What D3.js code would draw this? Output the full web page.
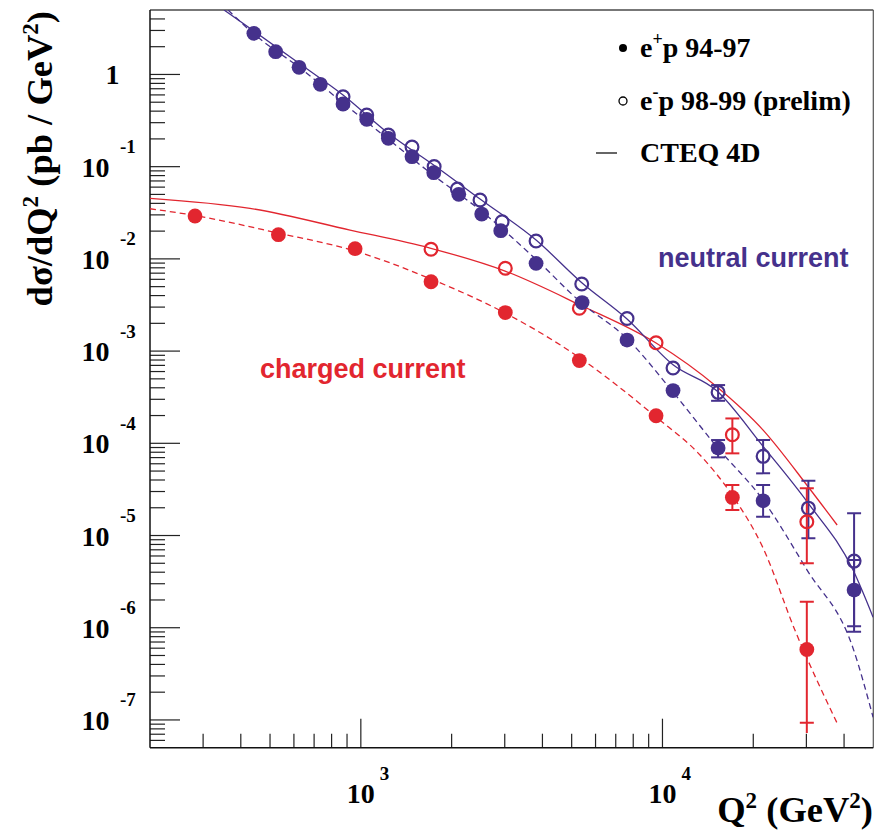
<!DOCTYPE html>
<html><head><meta charset="utf-8">
<script src="https://cdn.jsdelivr.net/npm/d3@7"></script>
<style>body{margin:0;background:#fff}</style>
</head><body><svg id="c" width="874" height="830"></svg>
<script>
// ---------- data ----------
const ncPosQ2 = [442,522,624,734,873,1046,1234,1478,1745,2112,2516,2910,3810,5414,7630,10840,15290,21560,43180];
const ncPosXS = [2.79,1.764,1.195,0.781,0.478,0.326,0.203,0.1282,0.0860,0.0501,0.03064,0.0202,0.00894,0.00336,0.001318,3.73e-4,8.88e-5,2.38e-5,2.56e-6];
const ncNegQ2 = [873,1046,1234,1478,1750,2090,2484,2940,3810,5400,7630,10840,15290,21560,30460,43180];
const ncNegXS = [0.5735,0.3633,0.2204,0.1634,0.1004,0.0572,0.04348,0.02528,0.01561,0.005335,0.002254,6.55e-4,3.57e-4,7.22e-5,1.98e-5,5.28e-6];
const ccPosQ2 = [282,533,957,1709,3013,5302,9522,17050,30100];
const ccPosXS = [0.02916,0.01828,0.01289,0.00565,0.002619,7.9e-4,1.99e-4,2.59e-5,5.82e-7];
const ccNegQ2 = [1709,3013,5302,9522,17050,30100];
const ccNegXS = [0.0127,0.0079,0.00291,0.00123,1.24e-4,1.41e-5];

// error bars: [Q2, low, high, (optional outer low)]
const ncPosErr = [[15290,7.04e-5,1.085e-4],[21560,1.6e-5,3.53e-5],[43180,9.04e-7,5.42e-6]];
const ncNegErr = [[15290,2.89e-4,4.28e-4],[21560,4.72e-5,1.085e-4],[30460,9.32e-6,3.92e-5],[43180,1.04e-6,1.74e-5]];
const ccPosErr = [[17050,1.89e-5,3.53e-5],[30100,9.31e-8,1.91e-6,7.2e-8]];
const ccNegErr = [[17050,7.78e-5,1.86e-4],[30100,4.99e-6,3.25e-5]];

// CTEQ 4D curves
const cteqNcNegQ2 = [352,442,629,873,1231,1762,2484,3810,5414,7630,10840,15170,21390,30400,42840,49920];
const cteqNcNegXS = [5.0,2.96,1.298,0.5985,0.2317,0.1016,0.04458,0.016,0.00547,0.002226,7.1e-4,3.69e-4,9.57e-5,2.25e-5,4.22e-6,1.3e-6];
const cteqNcPosQ2 = [363,442,629,873,1231,1735,2484,3830,5333,7614,10820,15140,21560,30160,42840,49920];
const cteqNcPosXS = [5.0,2.746,1.174,0.49,0.1996,0.0812,0.03387,0.009713,0.00343,0.001375,3.62e-4,9.17e-5,2.42e-5,4.22e-6,6.0e-7,1.07e-7];
const cteqCcNegQ2 = [200,429,921,1696,3008,5333,9522,15140,21560,30400,37940];
const cteqCcNegXS = [0.04537,0.03533,0.02056,0.01311,0.00738,0.00316,0.001223,4.1e-4,1.39e-4,3.38e-5,1.3e-5];
const cteqCcPosQ2 = [200,282,531,957,1709,3008,5333,9522,13320,17010,21560,27480,38080];
const cteqCcPosXS = [0.03498,0.02952,0.01907,0.01216,0.006045,0.002587,8.4e-4,1.926e-4,7.46e-5,2.745e-5,7.31e-6,9.43e-7,9.0e-8];

const xLabelTicks = [1000, 10000];
const yLabelTicks = [1,1e-1,1e-2,1e-3,1e-4,1e-5,1e-6,1e-7];
const xDomain = [200, 50000];
const yDomain = [5e-8, 5];

// ---------- layout ----------
const BLUE = "#45318c", RED = "#e2262f";
const L=150, R=873.3, T=10, B=747.7;
const svg = d3.select("#c");
const x = d3.scaleLog().domain(xDomain).range([L,R]);
const y = d3.scaleLog().domain(yDomain).range([B,T]);
const serif = "'Liberation Serif','Times New Roman',serif";
const sans = "'Liberation Sans',Arial,sans-serif";

svg.append("defs").append("clipPath").attr("id","pa")
  .append("rect").attr("x",L).attr("y",T).attr("width",R-L).attr("height",B-T);

// frame
svg.append("line").attr("x1",L).attr("x2",R).attr("y1",T).attr("y2",T).attr("stroke","#777").attr("stroke-width",2);
svg.append("line").attr("x1",R).attr("x2",R).attr("y1",T).attr("y2",B).attr("stroke","#555").attr("stroke-width",1.2);

// x ticks
const xt = x.ticks();
const isPow = v => Math.abs(Math.log10(v) - Math.round(Math.log10(v))) < 1e-6;
svg.append("g").selectAll("line").data(xt.filter(v=>v>xDomain[0] && v<xDomain[1])).join("line")
  .attr("x1",d=>x(d)).attr("x2",d=>x(d)).attr("y1",B).attr("y2",d=>B-(isPow(d)?29:14))
  .attr("stroke","#222").attr("stroke-width",1.2);
// y ticks
const yt = y.ticks();
svg.append("g").selectAll("line").data(yt.filter(v=>v>yDomain[0] && v<yDomain[1])).join("line")
  .attr("y1",d=>y(d)).attr("y2",d=>y(d)).attr("x1",L).attr("x2",d=>L+(isPow(d)?30:15))
  .attr("stroke","#222").attr("stroke-width",1.2);
// axis lines
svg.append("line").attr("x1",L).attr("x2",R).attr("y1",B).attr("y2",B).attr("stroke","#111").attr("stroke-width",1.5);
svg.append("line").attr("x1",L).attr("x2",L).attr("y1",T).attr("y2",B).attr("stroke","#111").attr("stroke-width",1.5);

// y tick labels
yLabelTicks.forEach(v=>{
  const e = Math.round(Math.log10(v));
  const yy = y(v);
  if(e===0){
    svg.append("text").attr("x",112.5).attr("y",yy+10).attr("text-anchor","middle")
      .attr("font-family",serif).attr("font-weight","bold").attr("font-size",28).text("1");
  } else {
    svg.append("text").attr("x",109.5).attr("y",yy+10).attr("text-anchor","end")
      .attr("font-family",serif).attr("font-weight","bold").attr("font-size",28).text("10");
    svg.append("text").attr("x",120).attr("y",yy-13.5).attr("text-anchor","start")
      .attr("font-family",serif).attr("font-weight","bold").attr("font-size",19).text(String(e));
  }
});
// x tick labels
xLabelTicks.forEach(v=>{
  const e = Math.round(Math.log10(v));
  const xx = x(v);
  svg.append("text").attr("x",xx).attr("y",803).attr("text-anchor","middle")
    .attr("font-family",serif).attr("font-weight","bold").attr("font-size",28).text("10");
  svg.append("text").attr("x",xx+19).attr("y",780).attr("text-anchor","start")
    .attr("font-family",serif).attr("font-weight","bold").attr("font-size",19).text(String(e));
});

// axis titles
const xt2 = svg.append("text").attr("x",873).attr("y",822).attr("text-anchor","end")
  .attr("font-family",serif).attr("font-weight","bold").attr("font-size",36.5);
xt2.append("tspan").text("Q");
xt2.append("tspan").attr("dy",-14).attr("font-size",23).text("2");
xt2.append("tspan").attr("dy",14).text(" (GeV");
xt2.append("tspan").attr("dy",-14).attr("font-size",23).text("2");
xt2.append("tspan").attr("dy",14).text(")");

const yt2 = svg.append("text").attr("transform","translate(52,11) rotate(-90)").attr("text-anchor","end")
  .attr("font-family",serif).attr("font-weight","bold").attr("font-size",36.5);
yt2.append("tspan").text("d\u03c3/dQ");
yt2.append("tspan").attr("dy",-14).attr("font-size",23).text("2");
yt2.append("tspan").attr("dy",14).text(" (pb / GeV");
yt2.append("tspan").attr("dy",-14).attr("font-size",23).text("2");
yt2.append("tspan").attr("dy",14).text(")");

// curves
const plot = svg.append("g").attr("clip-path","url(#pa)");
const line = d3.line().x(d=>x(d[0])).y(d=>y(d[1])).curve(d3.curveMonotoneX);
function curve(q, s, color, dash){
  plot.append("path").attr("d", line(d3.zip(q,s))).attr("fill","none")
    .attr("stroke",color).attr("stroke-width",1.3).attr("stroke-dasharray",dash||null);
}
curve(cteqCcNegQ2, cteqCcNegXS, RED);
curve(cteqCcPosQ2, cteqCcPosXS, RED, "6,4");
curve(cteqNcNegQ2, cteqNcNegXS, BLUE);
curve(cteqNcPosQ2, cteqNcPosXS, BLUE, "6,4");

// error bars
function errs(list, color){
  const g = plot.append("g").attr("stroke",color).attr("stroke-width",2);
  list.forEach(d=>{
    const xx = x(d[0]);
    const lo = d.length>3 ? d[3] : d[1];
    g.append("line").attr("x1",xx).attr("x2",xx).attr("y1",y(lo)).attr("y2",y(d[2]));
    [d[1],d[2]].forEach(v=>g.append("line").attr("x1",xx-7).attr("x2",xx+7).attr("y1",y(v)).attr("y2",y(v)));
  });
}
errs(ncNegErr, BLUE);
errs(ccNegErr, RED);
errs(ncPosErr, BLUE);
errs(ccPosErr, RED);

// markers
function openPts(q,s,color){
  plot.append("g").selectAll("circle").data(d3.zip(q,s)).join("circle")
    .attr("cx",d=>x(d[0])).attr("cy",d=>y(d[1])).attr("r",6.4)
    .attr("fill","none").attr("stroke",color).attr("stroke-width",2.2);
}
function filledPts(q,s,color){
  plot.append("g").selectAll("circle").data(d3.zip(q,s)).join("circle")
    .attr("cx",d=>x(d[0])).attr("cy",d=>y(d[1])).attr("r",7.4).attr("fill",color);
}
openPts(ncNegQ2, ncNegXS, BLUE);
openPts(ccNegQ2, ccNegXS, RED);
filledPts(ncPosQ2, ncPosXS, BLUE);
filledPts(ccPosQ2, ccPosXS, RED);

// legend
const lg = svg.append("g").attr("font-family",serif).attr("font-weight","bold").attr("font-size",28);
lg.append("circle").attr("cx",623).attr("cy",48).attr("r",4).attr("fill","#000");
const t1 = lg.append("text").attr("x",640).attr("y",57);
t1.append("tspan").text("e");
t1.append("tspan").attr("dy",-12).attr("font-size",18).text("+");
t1.append("tspan").attr("dy",12).text("p 94-97");
lg.append("circle").attr("cx",623).attr("cy",101).attr("r",4).attr("fill","none").attr("stroke","#000").attr("stroke-width",1.3);
const t2 = lg.append("text").attr("x",640).attr("y",110);
t2.append("tspan").text("e");
t2.append("tspan").attr("dy",-12).attr("font-size",18).text("-");
t2.append("tspan").attr("dy",12).text("p 98-99 (prelim)");
lg.append("line").attr("x1",596).attr("x2",617).attr("y1",153).attr("y2",153).attr("stroke","#000").attr("stroke-width",1.2);
lg.append("text").attr("x",640).attr("y",162).text("CTEQ 4D");

// annotations
svg.append("text").attr("x",658).attr("y",267).attr("font-family",sans).attr("font-weight","bold")
  .attr("font-size",27).attr("fill",BLUE).text("neutral current");
svg.append("text").attr("x",260).attr("y",378).attr("font-family",sans).attr("font-weight","bold")
  .attr("font-size",27).attr("fill",RED).text("charged current");
</script></body></html>
